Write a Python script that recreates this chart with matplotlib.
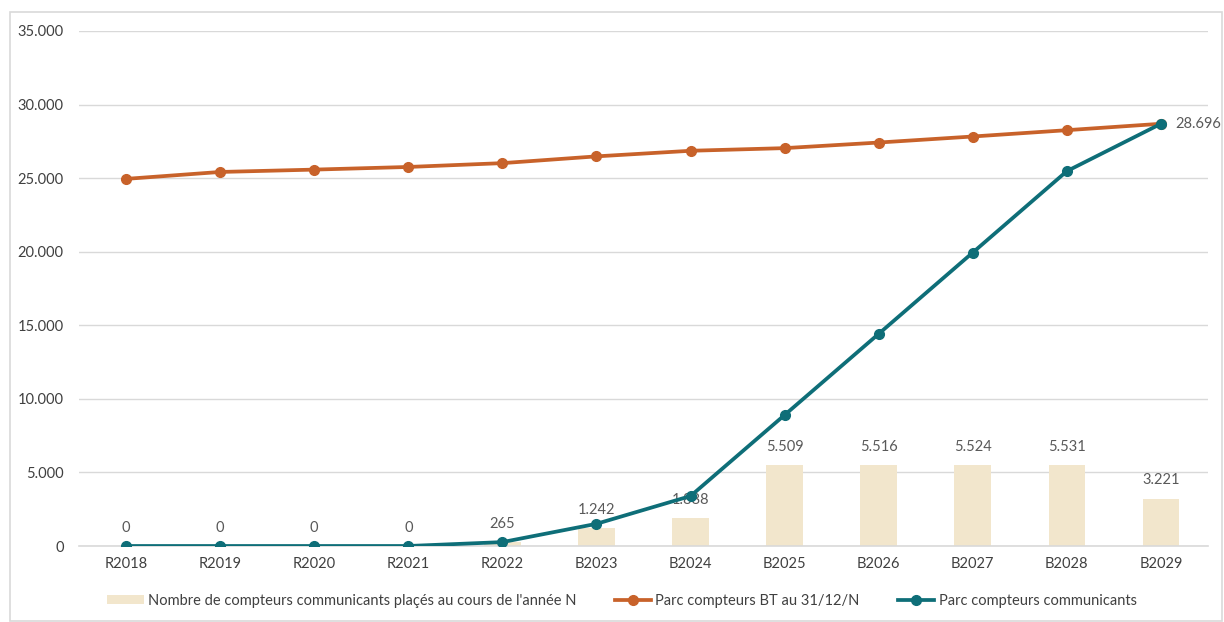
import matplotlib.pyplot as plt
import numpy as np
from matplotlib.patches import Rectangle

plt.rcParams['font.family'] = ['Lato', 'DejaVu Sans']

years = ["R2018", "R2019", "R2020", "R2021", "R2022", "B2023",
         "B2024", "B2025", "B2026", "B2027", "B2028", "B2029"]
placed = [0, 0, 0, 0, 265, 1242, 1888, 5509, 5516, 5524, 5531, 3221]
parc_bt = [24950, 25420, 25580, 25760, 26020, 26480, 26860, 27040,
           27420, 27830, 28260, 28696]
parc_comm = [0, 0, 0, 0, 265, 1507, 3395, 8904, 14420, 19944, 25475, 28696]

BAR = "#F2E6CC"
ORANGE = "#C8622A"
TEAL = "#0E6E78"
GREY = "#595959"

fig = plt.figure(figsize=(12.24, 6.22), dpi=100)
ax = fig.add_axes([79 / 1224, 1 - 546 / 622, 1129 / 1224, 515 / 622])

x = np.arange(len(years))
bars = ax.bar(x, placed, width=0.39, color=BAR, zorder=2,
              label="Nombre de compteurs communicants plaçés au cours de l'année N")
l_bt, = ax.plot(x, parc_bt, color=ORANGE, lw=2.7, marker="o", ms=7, zorder=3,
                label="Parc compteurs BT au 31/12/N")
l_comm, = ax.plot(x, parc_comm, color=TEAL, lw=2.7, marker="o", ms=7, zorder=4,
                  label="Parc compteurs communicants")


def fmt(v):
    return f"{v:,}".replace(",", ".")


for xi, v in zip(x, placed):
    ax.annotate(fmt(v), (xi, v), xytext=(0, 8), textcoords="offset points",
                ha="center", va="bottom", fontsize=10.5, color=GREY, zorder=3)
ax.annotate(fmt(parc_comm[-1]), (x[-1], parc_comm[-1]), xytext=(10, 0),
            textcoords="offset points", ha="left", va="center",
            fontsize=10.5, color=GREY)

ax.set_xlim(-0.5, len(years) - 0.5)
ax.set_ylim(0, 35000)
ax.set_yticks(range(0, 35001, 5000))
ax.set_yticklabels([fmt(v) for v in range(0, 35001, 5000)])
ax.set_xticks(x)
ax.set_xticklabels(years)
ax.tick_params(length=0, labelsize=10.5, colors=GREY, labelcolor="#404040")
ax.tick_params(axis="y", pad=11)
ax.tick_params(axis="x", pad=8)
ax.grid(axis="y", color="#D9D9D9", lw=1, zorder=0)
ax.set_axisbelow(True)
for side in ["left", "right", "top"]:
    ax.spines[side].set_visible(False)
ax.spines["bottom"].set_color("#D9D9D9")
ax.spines["bottom"].set_linewidth(1.2)

fig.legend(handles=[bars, l_bt, l_comm], loc="center",
           bbox_to_anchor=(622 / 1224, 1 - 601 / 622), ncol=3,
           frameon=False, fontsize=10.5, handlelength=2.5, handletextpad=0.3,
           handleheight=0.55, columnspacing=2.6, labelcolor="#404040")

fig.patches.append(Rectangle((10 / 1224, 0.002), 1212 / 1224, 1 - 12 / 622 - 0.002,
                             transform=fig.transFigure, fill=False,
                             edgecolor="#D9D9D9", lw=1.2))

fig.savefig("out.png", dpi=100)
